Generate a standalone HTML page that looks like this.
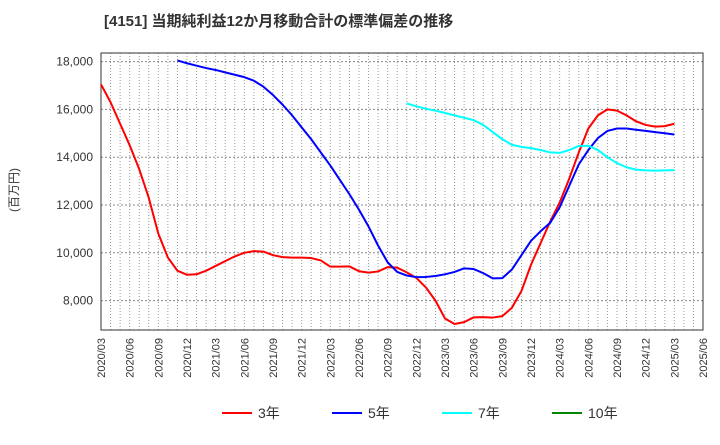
<!DOCTYPE html>
<html><head><meta charset="utf-8"><style>
body{margin:0;background:#fff;width:720px;height:440px;overflow:hidden;font-family:"Liberation Sans","Noto Sans CJK JP",sans-serif}
</style></head><body>
<svg id="c" width="720" height="440" xmlns="http://www.w3.org/2000/svg" font-family="Liberation Sans, Noto Sans CJK JP, sans-serif"></svg>
<script>
const yTicks=[8000,10000,12000,14000,16000,18000];
const s3=[17050,16300,15400,14500,13500,12300,10800,9800,9250,9080,9100,9250,9450,9650,9850,10000,10070,10050,9900,9820,9800,9800,9780,9680,9420,9420,9430,9230,9170,9220,9400,9380,9180,8950,8550,8000,7250,7020,7100,7300,7310,7290,7350,7700,8400,9500,10400,11300,12100,13100,14200,15200,15750,16000,15950,15750,15500,15350,15280,15300,15400];
const s5=[18050,17930,17830,17730,17650,17550,17450,17350,17200,16950,16600,16200,15750,15250,14750,14200,13650,13050,12450,11800,11100,10300,9600,9200,9050,8980,8990,9030,9100,9200,9350,9320,9150,8930,8940,9300,9900,10500,10900,11250,11900,12800,13700,14300,14800,15100,15200,15200,15150,15100,15050,15000,14950];
const s7=[16250,16130,16030,15950,15850,15750,15650,15550,15350,15050,14750,14520,14430,14380,14300,14200,14180,14300,14470,14480,14300,14000,13750,13580,13480,13450,13440,13450,13460];
const start5=8, start7=32;
const L=101,R=703,T=53,B=330,NM=63;
const X=m=>L+m*(R-L)/NM;
const Y=v=>252.8-(v-10000)*0.0239;
const svg=document.getElementById('c');const NS='http://www.w3.org/2000/svg';
function mk(t,a,p){const e=document.createElementNS(NS,t);for(const k in a)e.setAttribute(k,a[k]);(p||svg).appendChild(e);return e;}
let t=mk('text',{x:104,y:26,'font-size':15,'font-weight':'bold',fill:'#333'});t.textContent='[4151]  当期純利益12か月移動合計の標準偏差の推移';

mk('rect',{x:L,y:T,width:R-L,height:B-T,fill:'#fff',stroke:'none'});
for(let m=1;m<NM;m++){const g=mk('line',{x1:X(m),x2:X(m),y1:T,y2:B,stroke:'#999','stroke-dasharray':'1,2','stroke-width':1});}
yTicks.forEach(v=>{const g=mk('line',{x1:L,x2:R,y1:Y(v),y2:Y(v),stroke:'#888','stroke-dasharray':'2,2'});
const tx=mk('text',{x:L-8,y:Y(v)+4,'font-size':12,fill:'#333','text-anchor':'end'});tx.textContent=v.toLocaleString('en-US');});
for(let m=0;m<=NM;m+=3){const mo=3+m;const yr=2020+Math.floor((mo-1)/12);const mm=((mo-1)%12)+1;
const tx=mk('text',{x:X(m)+4,y:B+8,'font-size':11,fill:'#333','text-anchor':'end',transform:`rotate(-90 ${X(m)+4} ${B+8})`});tx.textContent=yr+'/'+String(mm).padStart(2,'0');}
const fr=mk('rect',{x:L,y:T,width:R-L,height:B-T,fill:'none',stroke:'#333','stroke-width':1});
const yt=mk('text',{x:18,y:190,'font-size':12,fill:'#333','text-anchor':'middle',transform:'rotate(-90 18 190)'});yt.textContent='(百万円)';
function line(arr,st,col,name){const p=mk('polyline',{points:arr.map((v,i)=>X(st+i)+','+Y(v)).join(' '),fill:'none',stroke:col,'stroke-width':2,'stroke-linejoin':'round'});}
line(s3,0,'#f00','series-3y');line(s5,start5,'#00f','series-5y');line(s7,start7,'#0ff','series-7y');
const lg=[['3年','#f00',222],['5年','#00f',332],['7年','#0ff',442],['10年','#080',552]];
lg.forEach(([n,c,x])=>{const g=mk('g',{});
mk('line',{x1:x,x2:x+30,y1:413,y2:413,stroke:c,'stroke-width':2},g);const tx=mk('text',{x:x+36,y:418,'font-size':14,fill:'#333'},g);tx.textContent=n;});
</script></body></html>
